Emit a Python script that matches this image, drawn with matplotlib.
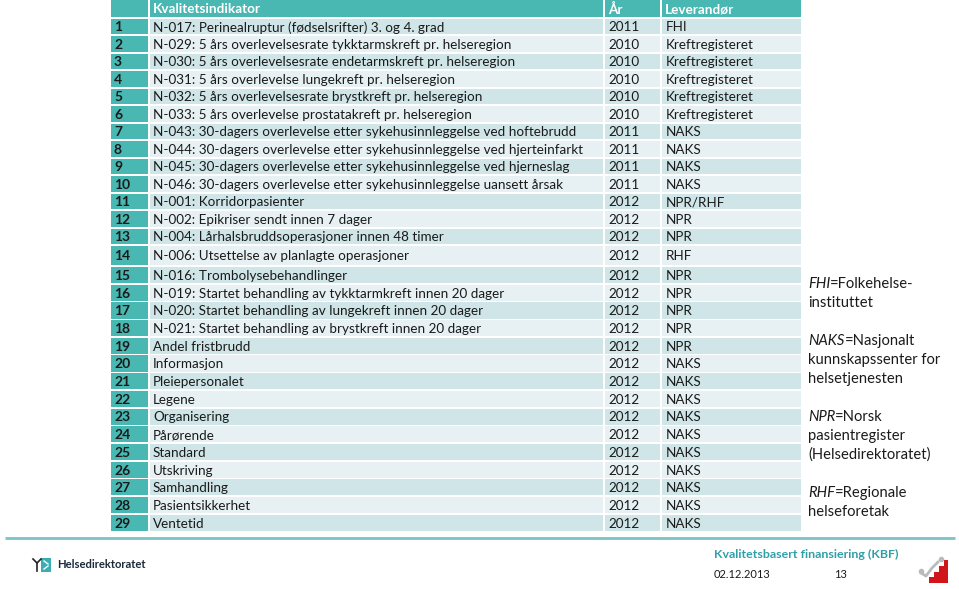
import matplotlib
matplotlib.use("Agg")
import matplotlib.pyplot as plt
from matplotlib.patches import Rectangle, Polygon

plt.rcParams['font.family'] = ['Lato', 'DejaVu Sans']

# ---------------- data ----------------
header = ["Kvalitetsindikator", "År", "Leverandør"]
indicators = [
    "N-017: Perinealruptur (fødselsrifter) 3. og 4. grad",
    "N-029: 5 års overlevelsesrate tykktarmskreft pr. helseregion",
    "N-030: 5 års overlevelsesrate endetarmskreft pr. helseregion",
    "N-031: 5 års overlevelse lungekreft pr. helseregion",
    "N-032: 5 års overlevelsesrate brystkreft pr. helseregion",
    "N-033: 5 års overlevelse prostatakreft pr. helseregion",
    "N-043: 30-dagers overlevelse etter sykehusinnleggelse ved hoftebrudd",
    "N-044: 30-dagers overlevelse etter sykehusinnleggelse ved hjerteinfarkt",
    "N-045: 30-dagers overlevelse etter sykehusinnleggelse ved hjerneslag",
    "N-046: 30-dagers overlevelse etter sykehusinnleggelse uansett årsak",
    "N-001: Korridorpasienter",
    "N-002: Epikriser sendt innen 7 dager",
    "N-004: Lårhalsbruddsoperasjoner innen 48 timer",
    "N-006: Utsettelse av planlagte operasjoner",
    "N-016: Trombolysebehandlinger",
    "N-019: Startet behandling av tykktarmkreft innen 20 dager",
    "N-020: Startet behandling av lungekreft innen 20 dager",
    "N-021: Startet behandling av brystkreft innen 20 dager",
    "Andel fristbrudd",
    "Informasjon",
    "Pleiepersonalet",
    "Legene",
    "Organisering",
    "Pårørende",
    "Standard",
    "Utskriving",
    "Samhandling",
    "Pasientsikkerhet",
    "Ventetid",
]
years = [2011, 2010, 2010, 2010, 2010, 2010, 2011, 2011, 2011, 2011,
         2012, 2012, 2012, 2012, 2012, 2012, 2012, 2012, 2012, 2012,
         2012, 2012, 2012, 2012, 2012, 2012, 2012, 2012, 2012]
suppliers = ["FHI", "Kreftregisteret", "Kreftregisteret", "Kreftregisteret",
             "Kreftregisteret", "Kreftregisteret", "NAKS", "NAKS", "NAKS", "NAKS",
             "NPR/RHF", "NPR", "NPR", "RHF", "NPR", "NPR", "NPR", "NPR", "NPR",
             "NAKS", "NAKS", "NAKS", "NAKS", "NAKS", "NAKS", "NAKS", "NAKS",
             "NAKS", "NAKS"]
legend_abbr = ["FHI", "NAKS", "NPR", "RHF"]
legend_text = [["Folkehelse-", "instituttet"],
               ["Nasjonalt", "kunnskapssenter for", "helsetjenesten"],
               ["Norsk", "pasientregister", "(Helsedirektoratet)"],
               ["Regionale", "helseforetak"]]
footer_title = "Kvalitetsbasert finansiering (KBF)"
footer_date = "02.12.2013"
footer_page = "13"
org_name = "Helsedirektoratet"

# ---------------- layout ----------------
W, H = 959, 589
fig = plt.figure(figsize=(W / 100, H / 100), dpi=100)
ax = fig.add_axes([0, 0, 1, 1])
ax.set_xlim(0, W)
ax.set_ylim(H, 0)
ax.axis('off')

teal = '#4AB8B2'
dark_row = '#CFE5E8'
light_row = '#E7F1F3'
txt = '#1a1a1a'

cols = [(111, 148), (150, 603), (605, 660), (662, 801)]
gap = 1.6
fs = 9.7

# row heights
heights = [18.5] + [17.5] * 13 + [21.0] + [17.7] * 15
tops = []
y = 0.0
for h in heights:
    tops.append(y)
    y += h

# header
for i, (x0, x1) in enumerate(cols):
    ax.add_patch(Rectangle((x0, tops[0]), x1 - x0, heights[0] - gap,
                           facecolor=teal, edgecolor='none'))
cy = tops[0] + (heights[0] - gap) / 2 + 0.8
for (x0, x1), t in zip(cols[1:], header):
    ax.text(x0 + 3, cy, t, color='white', fontsize=fs, fontweight='bold',
            va='center', ha='left')

# body
for r in range(len(indicators)):
    top = tops[r + 1]
    h = heights[r + 1] - gap
    bg = dark_row if r % 2 == 0 else light_row
    for ci, (x0, x1) in enumerate(cols):
        ax.add_patch(Rectangle((x0, top), x1 - x0, h,
                               facecolor=teal if ci == 0 else bg, edgecolor='none'))
    cy = top + h / 2 + 0.8
    ax.text(cols[0][0] + 3, cy, str(r + 1), color=txt, fontsize=fs + 0.3,
            fontweight='bold', va='center', ha='left')
    ax.text(cols[1][0] + 3, cy, indicators[r], color=txt, fontsize=fs,
            va='center', ha='left')
    ax.text(cols[2][0] + 3, cy, str(years[r]), color=txt, fontsize=fs,
            va='center', ha='left')
    ax.text(cols[3][0] + 4, cy, suppliers[r], color=txt, fontsize=fs,
            va='center', ha='left')

# side legend
ly = [284, 341, 417, 493]
lsz = 10.6
for abbr, lines, y0 in zip(legend_abbr, legend_text, ly):
    t = ax.text(808, y0, abbr, fontsize=lsz, style='italic', color=txt,
                va='center', ha='left')
    fig.canvas.draw()
    bb = t.get_window_extent()
    wpx = bb.width
    ax.text(808 + wpx, y0, "=" + lines[0], fontsize=lsz, color=txt,
            va='center', ha='left')
    for k, ln in enumerate(lines[1:], start=1):
        ax.text(808, y0 + 19 * k, ln, fontsize=lsz, color=txt,
                va='center', ha='left')

# footer line
ax.plot([5, 955], [537.5, 537.5], color='#7CC3C6', lw=2, solid_capstyle='butt')

# footer texts
ax.text(714, 554, footer_title, color='#2F9FA8', fontsize=8.9,
        fontweight='bold', va='center', ha='left')
ax.text(714, 574, footer_date, color=txt, fontsize=8, va='center', ha='left')
ax.text(834, 574, footer_page, color=txt, fontsize=8, va='center', ha='left')

# logo
ax.add_patch(Rectangle((41, 558), 10, 14, facecolor='#3AAFB3', edgecolor='none'))
ax.plot([33, 37, 41], [559, 563, 559], color='#222222', lw=1.2)
ax.plot([37, 37], [563, 571], color='#222222', lw=1.2)
ax.plot([44, 48], [561, 564], color='white', lw=1)
ax.plot([44, 48], [569, 566], color='white', lw=1)
ax.text(57, 565, org_name, color='#1c2a3a', fontsize=8.1, fontweight='bold',
        va='center', ha='left')

# stairs icon
stairs = [(929, 583), (929, 577), (934, 577), (934, 572), (939, 572), (939, 566),
          (944, 566), (944, 560), (948, 560), (948, 583)]
ax.add_patch(Polygon(stairs, closed=True, facecolor='#D0161B', edgecolor='none'))
ax.plot([921, 926, 932, 938], [573, 576, 568, 562], color='#BBBBBB', lw=2)
ax.plot([921], [571], 'o', color='#BBBBBB', ms=3)
ax.plot([941], [559], 'o', color='#BBBBBB', ms=3)

fig.savefig('out.png', dpi=100)
